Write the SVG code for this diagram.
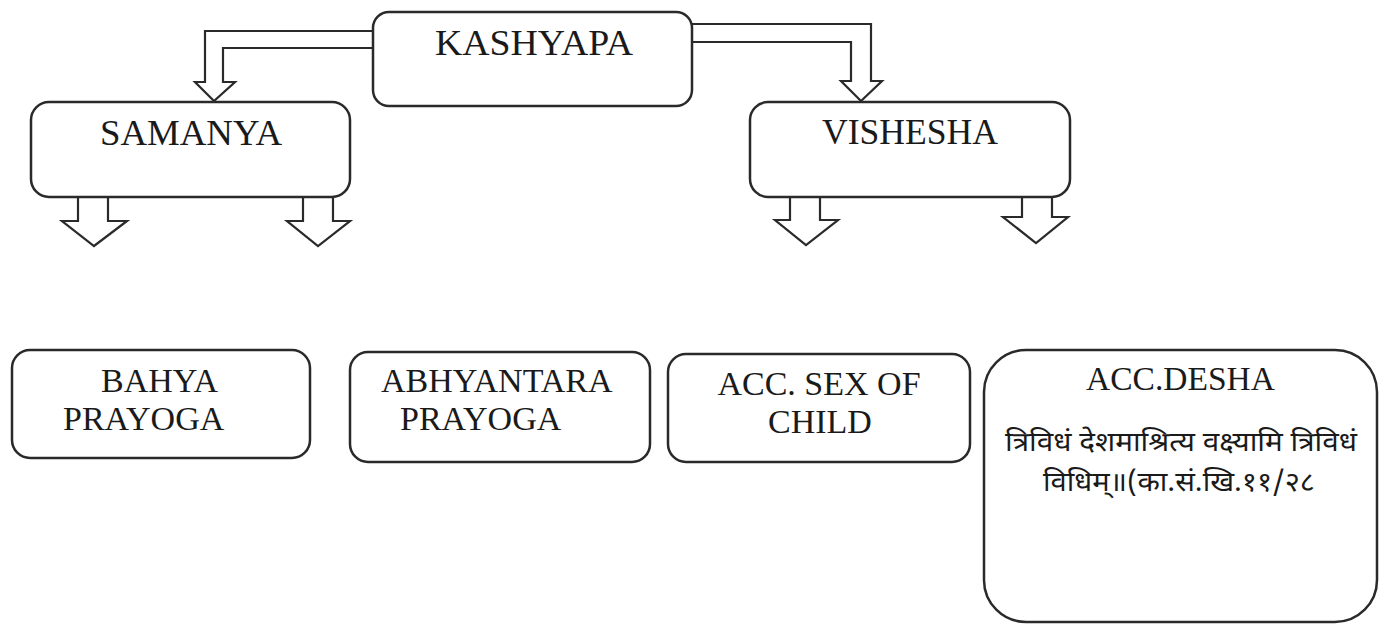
<svg xmlns="http://www.w3.org/2000/svg" width="1382" height="625" viewBox="0 0 1382 625">
<style>
.box{fill:#fff;stroke:#2a2a2a;stroke-width:2.5}
.arr{fill:#fff;stroke:#2a2a2a;stroke-width:2.2;stroke-linejoin:miter}
.t{font-family:"Liberation Serif","Times New Roman",serif;fill:#1a1a1a}
.big{font-size:35px}
.mid{font-size:34px}
.dev{font-family:"Noto Sans Devanagari","Noto Serif Devanagari","Lohit Devanagari","Mangal",sans-serif;font-size:27px;fill:#1a1a1a}
</style>
<rect width="1382" height="625" fill="#fff"/>
<g id="connectors">
<path class="arr" d="M373 31 H205 V82 H195 L214 101 L235 82 H223 V48 H373"/>
<path class="arr" d="M692 24 H871 V81 H882 L861 101 L841 81 H851 V42 H692"/>
<path class="arr" d="M78 197 V221 H62 L94 246 L127 221 H108 V197"/>
<path class="arr" d="M303 197 V221 H287 L318 246 L350 221 H333 V197"/>
<path class="arr" d="M790 197 V220 H775 L806 245 L838 220 H820 V197"/>
<path class="arr" d="M1022 193 V217 H1003 L1036 243 L1068 217 H1052 V193"/>
</g>
<g id="kashyapa">
<rect class="box" x="373" y="12" width="319" height="94" rx="16"/>
<text class="t big" x="435" y="55" textLength="198" lengthAdjust="spacingAndGlyphs">KASHYAPA</text>
</g>
<g id="samanya">
<rect class="box" x="31" y="102" width="319" height="95" rx="18"/>
<text class="t big" x="100" y="145" textLength="182" lengthAdjust="spacingAndGlyphs">SAMANYA</text>
</g>
<g id="vishesha">
<rect class="box" x="750" y="102" width="320" height="95" rx="18"/>
<text class="t big" x="822" y="144" textLength="176" lengthAdjust="spacingAndGlyphs">VISHESHA</text>
</g>
<g id="bahya">
<rect class="box" x="12" y="350" width="298" height="108" rx="18"/>
<text class="t mid" x="101" y="392">BAHYA</text>
<text class="t mid" x="63" y="430">PRAYOGA</text>
</g>
<g id="abhyantara">
<rect class="box" x="350" y="352" width="300" height="110" rx="18"/>
<text class="t mid" x="381" y="392">ABHYANTARA</text>
<text class="t mid" x="400" y="430">PRAYOGA</text>
</g>
<g id="sex">
<rect class="box" x="668" y="354" width="302" height="108" rx="18"/>
<text class="t mid" x="819" y="395" text-anchor="middle">ACC. SEX OF</text>
<text class="t mid" x="820" y="433" text-anchor="middle">CHILD</text>
</g>
<g id="desha">
<rect class="box" x="984" y="350" width="393" height="272" rx="42"/>
<text class="t mid" x="1086" y="390" textLength="189" lengthAdjust="spacingAndGlyphs">ACC.DESHA</text>
<text class="dev" x="1005" y="451" textLength="352" lengthAdjust="spacingAndGlyphs">त्रिविधं देशमाश्रित्य वक्ष्यामि त्रिविधं</text>
<text class="dev" x="1043" y="491" textLength="272" lengthAdjust="spacingAndGlyphs">विधिम्॥(का.सं.खि.११/२८</text>
</g>
</svg>
